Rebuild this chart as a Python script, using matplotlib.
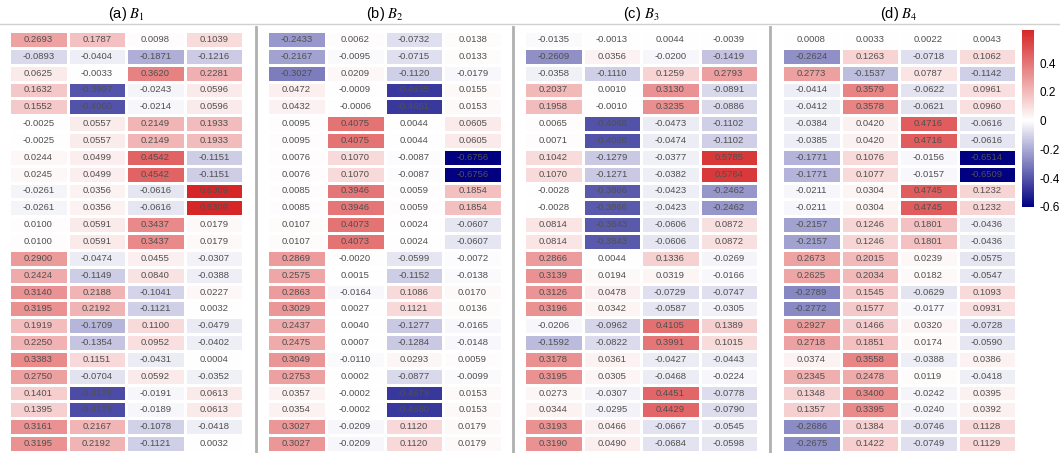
import numpy as np
import matplotlib
matplotlib.use('Agg')
import matplotlib.pyplot as plt
from matplotlib.colors import LinearSegmentedColormap, Normalize
from matplotlib.lines import Line2D

plt.rcParams['font.family'] = ['Liberation Sans', 'DejaVu Sans']
plt.rcParams['mathtext.fontset'] = 'stix'

# данные: 25 строк x 4 столбца для каждой матрицы
B1 = [
    [0.2693, 0.1787, 0.0098, 0.1039],
    [-0.0893, -0.0404, -0.1871, -0.1216],
    [0.0625, -0.0033, 0.3620, 0.2281],
    [0.1632, -0.3997, -0.0243, 0.0596],
    [0.1552, -0.4060, -0.0214, 0.0596],
    [-0.0025, 0.0557, 0.2149, 0.1933],
    [-0.0025, 0.0557, 0.2149, 0.1933],
    [0.0244, 0.0499, 0.4542, -0.1151],
    [0.0245, 0.0499, 0.4542, -0.1151],
    [-0.0261, 0.0356, -0.0616, 0.6309],
    [-0.0261, 0.0356, -0.0616, 0.6309],
    [0.0100, 0.0591, 0.3437, 0.0179],
    [0.0100, 0.0591, 0.3437, 0.0179],
    [0.2900, -0.0474, 0.0455, -0.0307],
    [0.2424, -0.1149, 0.0840, -0.0388],
    [0.3140, 0.2188, -0.1041, 0.0227],
    [0.3195, 0.2192, -0.1121, 0.0032],
    [0.1919, -0.1709, 0.1100, -0.0479],
    [0.2250, -0.1354, 0.0952, -0.0402],
    [0.3383, 0.1151, -0.0431, 0.0004],
    [0.2750, -0.0704, 0.0592, -0.0352],
    [0.1401, -0.4175, -0.0191, 0.0613],
    [0.1395, -0.4179, -0.0189, 0.0613],
    [0.3161, 0.2167, -0.1078, -0.0418],
    [0.3195, 0.2192, -0.1121, 0.0032],
]

B2 = [
    [-0.2433, 0.0062, -0.0732, 0.0138],
    [-0.2167, -0.0095, -0.0715, 0.0133],
    [-0.3027, 0.0209, -0.1120, -0.0179],
    [0.0472, -0.0009, -0.4635, 0.0155],
    [0.0432, -0.0006, -0.4651, 0.0153],
    [0.0095, 0.4075, 0.0044, 0.0605],
    [0.0095, 0.4075, 0.0044, 0.0605],
    [0.0076, 0.1070, -0.0087, -0.6756],
    [0.0076, 0.1070, -0.0087, -0.6756],
    [0.0085, 0.3946, 0.0059, 0.1854],
    [0.0085, 0.3946, 0.0059, 0.1854],
    [0.0107, 0.4073, 0.0024, -0.0607],
    [0.0107, 0.4073, 0.0024, -0.0607],
    [0.2869, -0.0020, -0.0599, -0.0072],
    [0.2575, 0.0015, -0.1152, -0.0138],
    [0.2863, -0.0164, 0.1086, 0.0170],
    [0.3029, 0.0027, 0.1121, 0.0136],
    [0.2437, 0.0040, -0.1277, -0.0165],
    [0.2475, 0.0007, -0.1284, -0.0148],
    [0.3049, -0.0110, 0.0293, 0.0059],
    [0.2753, 0.0002, -0.0877, -0.0099],
    [0.0357, -0.0002, -0.4679, 0.0153],
    [0.0354, -0.0002, -0.4680, 0.0153],
    [0.3027, -0.0209, 0.1120, 0.0179],
    [0.3027, -0.0209, 0.1120, 0.0179],
]

B3 = [
    [-0.0135, -0.0013, 0.0044, -0.0039],
    [-0.2609, 0.0356, -0.0200, -0.1419],
    [-0.0358, -0.1110, 0.1259, 0.2793],
    [0.2037, 0.0010, 0.3130, -0.0891],
    [0.1958, -0.0010, 0.3235, -0.0886],
    [0.0065, -0.4068, -0.0473, -0.1102],
    [0.0071, -0.4068, -0.0474, -0.1102],
    [0.1042, -0.1279, -0.0377, 0.5785],
    [0.1070, -0.1271, -0.0382, 0.5764],
    [-0.0028, -0.3866, -0.0423, -0.2462],
    [-0.0028, -0.3866, -0.0423, -0.2462],
    [0.0814, -0.3843, -0.0606, 0.0872],
    [0.0814, -0.3843, -0.0606, 0.0872],
    [0.2866, 0.0044, 0.1336, -0.0269],
    [0.3139, 0.0194, 0.0319, -0.0166],
    [0.3126, 0.0478, -0.0729, -0.0747],
    [0.3196, 0.0342, -0.0587, -0.0305],
    [-0.0206, -0.0962, 0.4105, 0.1389],
    [-0.1592, -0.0822, 0.3991, 0.1015],
    [0.3178, 0.0361, -0.0427, -0.0443],
    [0.3195, 0.0305, -0.0468, -0.0224],
    [0.0273, -0.0307, 0.4451, -0.0778],
    [0.0344, -0.0295, 0.4429, -0.0790],
    [0.3193, 0.0466, -0.0667, -0.0545],
    [0.3190, 0.0490, -0.0684, -0.0598],
]

B4 = [
    [0.0008, 0.0033, 0.0022, 0.0043],
    [-0.2624, 0.1263, -0.0718, 0.1062],
    [0.2773, -0.1537, 0.0787, -0.1142],
    [-0.0414, 0.3579, -0.0622, 0.0961],
    [-0.0412, 0.3578, -0.0621, 0.0960],
    [-0.0384, 0.0420, 0.4716, -0.0616],
    [-0.0385, 0.0420, 0.4716, -0.0616],
    [-0.1771, 0.1076, -0.0156, -0.6514],
    [-0.1771, 0.1077, -0.0157, -0.6509],
    [-0.0211, 0.0304, 0.4745, 0.1232],
    [-0.0211, 0.0304, 0.4745, 0.1232],
    [-0.2157, 0.1246, 0.1801, -0.0436],
    [-0.2157, 0.1246, 0.1801, -0.0436],
    [0.2673, 0.2015, 0.0239, -0.0575],
    [0.2625, 0.2034, 0.0182, -0.0547],
    [-0.2789, 0.1545, -0.0629, 0.1093],
    [-0.2772, 0.1577, -0.0177, 0.0931],
    [0.2927, 0.1466, 0.0320, -0.0728],
    [0.2718, 0.1851, 0.0174, -0.0590],
    [0.0374, 0.3558, -0.0388, 0.0386],
    [0.2345, 0.2478, 0.0119, -0.0418],
    [0.1348, 0.3400, -0.0242, 0.0395],
    [0.1357, 0.3395, -0.0240, 0.0392],
    [-0.2686, 0.1384, -0.0746, 0.1128],
    [-0.2675, 0.1422, -0.0749, 0.1129],
]

titles = ['(a) $B_1$', '(b) $B_2$', '(c) $B_3$', '(d) $B_4$']
cbar_ticks = [-0.6, -0.4, -0.2, 0.0, 0.2, 0.4]
cbar_labels = ['-0.6', '-0.4', '-0.2', '0', '0.2', '0.4']

W, H = 1060, 453
vmin, vmax = -0.6, 0.63


def box(x0, y0, x1, y1):
    # пиксели (сверху вниз) -> координаты фигуры
    return [x0 / W, 1 - y1 / H, (x1 - x0) / W, (y1 - y0) / H]


cmap = LinearSegmentedColormap.from_list(
    'nwr', [(0.0, 'navy'), (-vmin / (vmax - vmin), 'white'), (1.0, '#d62728')])
norm = Normalize(vmin=vmin, vmax=vmax)

fig = plt.figure(figsize=(W / 100, H / 100), dpi=100)

panels = [(9, 243), (267, 502), (524, 758), (782, 1016)]
mats = [B1, B2, B3, B4]

mesh = None
for (x0, x1), M, t in zip(panels, mats, titles):
    M = np.array(M)
    ax = fig.add_axes(box(x0, 31, x1, 452))
    mesh = ax.pcolormesh(M, cmap=cmap, norm=norm, edgecolors='white', linewidth=1.0)
    ax.set_xlim(0, M.shape[1])
    ax.set_ylim(M.shape[0], 0)
    for i in range(M.shape[0]):
        for j in range(M.shape[1]):
            ax.text(j + 0.5, i + 0.5, '%.4f' % M[i, j], ha='center', va='center',
                    fontsize=6.8, color='#505050')
    ax.set_xticks([])
    ax.set_yticks([])
    for s in ax.spines.values():
        s.set_visible(False)
    fig.text((x0 + x1) / 2 / W, 1 - 14 / H, t, ha='center', va='center', fontsize=10.5)

# разделители
fig.add_artist(Line2D([0, 1], [1 - 24 / H, 1 - 24 / H], color='#d0d0d0', lw=1.0))
for xs in [256, 513, 770]:
    fig.add_artist(Line2D([xs / W, xs / W], [0, 1 - 27 / H], color='#b0b0b0', lw=2.0))

cax = fig.add_axes(box(1022, 30, 1034, 207))
cb = fig.colorbar(mesh, cax=cax)
cb.outline.set_visible(False)
cb.set_ticks(cbar_ticks)
cb.set_ticklabels(cbar_labels)
cax.tick_params(length=0, labelsize=8.5, pad=4)

fig.savefig('out.png', dpi=100)
